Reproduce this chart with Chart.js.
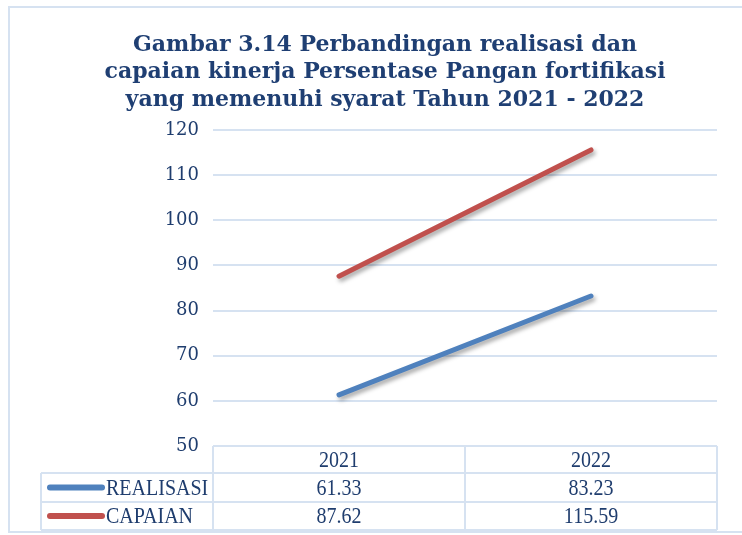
<!DOCTYPE html>
<html>
<head>
<meta charset="utf-8">
<script src="https://cdn.jsdelivr.net/npm/chart.js@4"></script>
<style>
    html, body { margin: 0; padding: 0; background: #fff; }
    #wrap { width: 742px; height: 535px; }
</style>
</head>
<body>
<div id="wrap"><canvas id="kinerjaChart" width="742" height="535"></canvas></div>
<script>
const years = ['2021', '2022'];
const realisasi = [61.33, 83.23];
const capaian = [87.62, 115.59];
const seriesNames = ['REALISASI', 'CAPAIAN'];
const seriesColors = ['#4f81bd', '#c0504d'];
const titleLines = [
    'Gambar 3.14 Perbandingan realisasi dan',
    'capaian kinerja Persentase Pangan fortifikasi',
    'yang memenuhi syarat Tahun 2021 - 2022'
];

const gridColor = '#d6e2f1';
const textColor = '#1f3d6e';

// bayangan garis
const shadowPlugin = {
    id: 'shadowPlugin',
    beforeDatasetsDraw(chart) {
        const ctx = chart.ctx;
        ctx.save();
        ctx.shadowColor = 'rgba(0, 0, 0, 0.35)';
        ctx.shadowBlur = 4;
        ctx.shadowOffsetX = 2;
        ctx.shadowOffsetY = 3;
    },
    afterDatasetsDraw(chart) {
        chart.ctx.restore();
    }
};

// judul + bingkai luar
const titlePlugin = {
    id: 'titlePlugin',
    afterDraw(chart) {
        const ctx = chart.ctx;
        ctx.save();
        ctx.strokeStyle = gridColor;
        ctx.lineWidth = 2;
        ctx.strokeRect(9, 7, 760, 525);

        ctx.fillStyle = '#1f3f73';
        ctx.font = 'bold 22px "DejaVu Serif"';
        ctx.textAlign = 'center';
        ctx.textBaseline = 'middle';
        titleLines.forEach((t, i) => ctx.fillText(t, 385, 45 + i * 27.5));
        ctx.restore();
    }
};

// teks tabel sedikit dipanjangkan vertikal
function tallText(ctx, text, x, y) {
    ctx.save();
    ctx.translate(x, y);
    ctx.scale(1, 1.15);
    ctx.fillText(text, 0, 0);
    ctx.restore();
}

// tabel data di bawah grafik
const dataTablePlugin = {
    id: 'dataTablePlugin',
    afterDraw(chart) {
        const ctx = chart.ctx;
        const area = chart.chartArea;
        const x = chart.scales.x;
        const top = area.bottom;
        const rowH = [27, 29, 28];
        const legendLeft = 41;
        const r1 = top + rowH[0];
        const r2 = r1 + rowH[1];
        const r3 = r2 + rowH[2];

        ctx.save();
        ctx.strokeStyle = gridColor;
        ctx.lineWidth = 2;
        ctx.beginPath();
        ctx.moveTo(area.left, top); ctx.lineTo(area.right, top);
        ctx.moveTo(legendLeft, r1); ctx.lineTo(area.right, r1);
        ctx.moveTo(legendLeft, r2); ctx.lineTo(area.right, r2);
        ctx.moveTo(legendLeft, r3); ctx.lineTo(area.right, r3);
        ctx.moveTo(legendLeft, r1); ctx.lineTo(legendLeft, r3);
        const half = (x.getPixelForValue(1) - x.getPixelForValue(0)) / 2;
        const edges = [x.getPixelForValue(0) - half, x.getPixelForValue(0) + half, x.getPixelForValue(1) + half];
        edges.forEach(e => { ctx.moveTo(e, top); ctx.lineTo(e, r3); });
        ctx.stroke();

        ctx.fillStyle = textColor;
        ctx.font = '20px "Liberation Serif"';
        ctx.textAlign = 'center';
        ctx.textBaseline = 'middle';
        years.forEach((y, i) => tallText(ctx, y, x.getPixelForValue(i), (top + r1) / 2 + 1));

        const rows = [realisasi, capaian];
        const rowMid = [(r1 + r2) / 2 + 1, (r2 + r3) / 2 + 1];
        rows.forEach((vals, ri) => {
            ctx.textAlign = 'center';
            ctx.fillStyle = textColor;
            vals.forEach((v, i) => tallText(ctx, v.toFixed(2), x.getPixelForValue(i), rowMid[ri]));

            ctx.strokeStyle = seriesColors[ri];
            ctx.lineWidth = 6;
            ctx.lineCap = 'round';
            ctx.beginPath();
            ctx.moveTo(50, rowMid[ri] - 1);
            ctx.lineTo(102, rowMid[ri] - 1);
            ctx.stroke();

            ctx.textAlign = 'left';
            tallText(ctx, seriesNames[ri], 106, rowMid[ri]);
        });
        ctx.restore();
    }
};

new Chart(document.getElementById('kinerjaChart'), {
    type: 'line',
    data: {
        labels: years,
        datasets: [{
            label: seriesNames[0],
            data: realisasi,
            borderColor: seriesColors[0],
            backgroundColor: seriesColors[0],
            borderWidth: 5,
            borderCapStyle: 'round',
            pointRadius: 0,
            tension: 0
        }, {
            label: seriesNames[1],
            data: capaian,
            borderColor: seriesColors[1],
            backgroundColor: seriesColors[1],
            borderWidth: 5,
            borderCapStyle: 'round',
            pointRadius: 0,
            tension: 0
        }]
    },
    options: {
        responsive: false,
        animation: false,
        layout: {
            padding: { left: 0, right: 25, top: 130, bottom: 0 }
        },
        plugins: {
            legend: { display: false },
            tooltip: { enabled: false },
            title: { display: false }
        },
        scales: {
            x: {
                offset: true,
                grid: { display: false },
                border: { display: false },
                ticks: { display: false },
                afterFit(scale) { scale.height = 89; }
            },
            y: {
                min: 50,
                max: 120,
                ticks: {
                    stepSize: 10,
                    padding: 14,
                    color: textColor,
                    font: { family: '"DejaVu Serif"', size: 18 }
                },
                grid: { color: gridColor, lineWidth: 2, drawTicks: false },
                border: { display: false },
                afterFit(scale) { scale.width = 213; }
            }
        }
    },
    plugins: [shadowPlugin, titlePlugin, dataTablePlugin]
});
</script>
</body>
</html>
